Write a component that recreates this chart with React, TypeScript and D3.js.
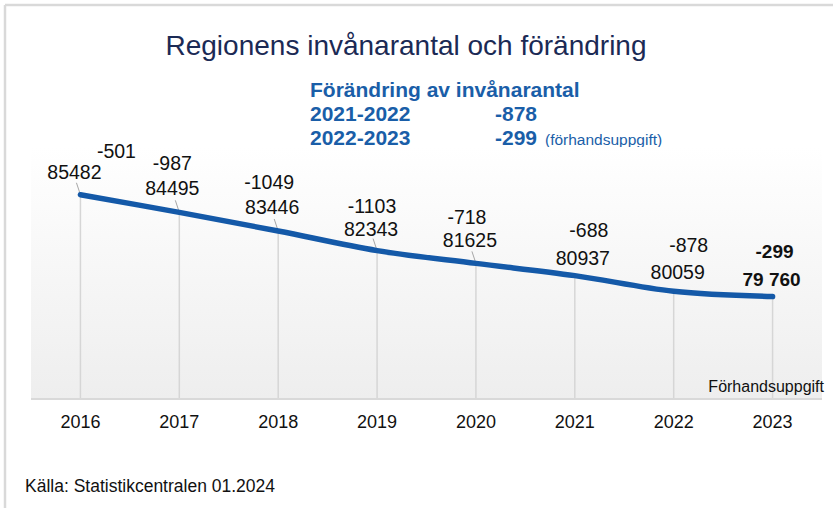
import React from "react";
import * as d3 from "d3";

const years = ["2016", "2017", "2018", "2019", "2020", "2021", "2022", "2023"];
const population = [85482, 84495, 83446, 82343, 81625, 80937, 80059, 79760];
const changes = [-501, -987, -1049, -1103, -718, -688, -878, -299];
const yDomain = [74000, 88000];

const summaryRows = [
  { period: "2021-2022", value: "-878", note: "" },
  { period: "2022-2023", value: "-299", note: "(förhandsuppgift)" },
];

// label layout offsets (px) relative to each point
const valueOffsets = [[-6, -16], [-7, -17], [-6, -17], [-6, -15], [-6, -16], [8, -11], [4, -12], [-1, -11]];
const changeOffsets = [[36, -37], [-7, -42], [-9, -42], [-5, -38], [-9, -39], [14, -39], [15, -39], [2, -39]];

const W = 833;
const H = 508;
const plot = { left: 31, right: 822, top: 147, bottom: 399 };
const FONT = "'Liberation Sans', Arial, sans-serif";

export default function App() {
  const x = d3
    .scalePoint<string>()
    .domain(years)
    .range([plot.left, plot.right])
    .padding(0.5);
  const y = d3.scaleLinear().domain(yDomain).range([plot.bottom, 150]);

  const pts: [number, number][] = years.map((yr, i) => [x(yr) as number, y(population[i])]);
  const line = d3.line().curve(d3.curveCatmullRom.alpha(0.5))(pts) || "";
  const last = years.length - 1;
  const fmtSpace = (v: number) => d3.format(",")(v).replace(/,/g, " ");

  return (
    <svg
      width={W}
      height={H}
      style={{ position: "absolute", left: 0, top: 0, background: "#fff" }}
      fontFamily={FONT}
    >
      <defs>
        <linearGradient id="bg" x1="0" y1="0" x2="0" y2="1">
          <stop offset="0" stopColor="#ffffff" />
          <stop offset="1" stopColor="#eeeeee" />
        </linearGradient>
      </defs>
      <rect x={0} y={0} width={W} height={H} fill="#fff" />
      {/* outer frame */}
      <line x1={5} y1={5} x2={W} y2={5} stroke="#d9d9d9" strokeWidth={2.5} />
      <line x1={5} y1={5} x2={5} y2={H} stroke="#d9d9d9" strokeWidth={2.5} />

      {/* title */}
      <text x={406} y={55} textAnchor="middle" fontSize={28} fill="#1b2a55">
        Regionens invånarantal och förändring
      </text>

      {/* summary */}
      <g fill="#1a5ea8" fontWeight="bold" fontSize={21}>
        <text x={310} y={97}>Förändring av invånarantal</text>
        {summaryRows.map((r, i) => (
          <g key={r.period}>
            <text x={310} y={121 + i * 24}>{r.period}</text>
            <text x={495} y={121 + i * 24}>{r.value}</text>
            {r.note && (
              <text x={545} y={121 + i * 24} fontWeight="normal" fontSize={15.5}>
                {r.note}
              </text>
            )}
          </g>
        ))}
      </g>

      {/* plot background */}
      <rect
        x={plot.left}
        y={plot.top}
        width={plot.right - plot.left}
        height={plot.bottom - plot.top}
        fill="url(#bg)"
      />

      {/* drop lines */}
      {pts.map(([px, py], i) => (
        <line key={"d" + i} x1={px} y1={py} x2={px} y2={plot.bottom} stroke="#d6d6d6" strokeWidth={1.5} />
      ))}
      {/* axis */}
      <line x1={plot.left} y1={plot.bottom} x2={plot.right} y2={plot.bottom} stroke="#d9d9d9" strokeWidth={2} />

      {/* leader lines */}
      {pts.slice(0, 5).map(([px, py], i) => (
        <line key={"l" + i} x1={px - 4} y1={py - 12} x2={px} y2={py} stroke="#a6a6a6" strokeWidth={1} />
      ))}

      {/* line */}
      <path d={line} fill="none" stroke="#1459a8" strokeWidth={5.5} strokeLinecap="round" strokeLinejoin="round" />

      {/* labels */}
      {pts.map(([px, py], i) => {
        const bold = i === last;
        return (
          <g key={"t" + i} textAnchor="middle" fill="#111" fontSize={bold ? 19 : 19.5} fontWeight={bold ? "bold" : "normal"}>
            <text x={px + valueOffsets[i][0]} y={py + valueOffsets[i][1]}>
              {bold ? fmtSpace(population[i]) : String(population[i])}
            </text>
            <text x={px + changeOffsets[i][0]} y={py + changeOffsets[i][1]}>
              {String(changes[i])}
            </text>
          </g>
        );
      })}

      {/* x tick labels */}
      {years.map((yr) => (
        <text key={yr} x={x(yr) as number} y={428} textAnchor="middle" fontSize={18} fill="#111">
          {yr}
        </text>
      ))}

      <text x={824} y={392} textAnchor="end" fontSize={16} fill="#111">
        Förhandsuppgift
      </text>

      <text x={25} y={492} fontSize={17.5} fill="#111">
        Källa: Statistikcentralen 01.2024
      </text>
    </svg>
  );
}
